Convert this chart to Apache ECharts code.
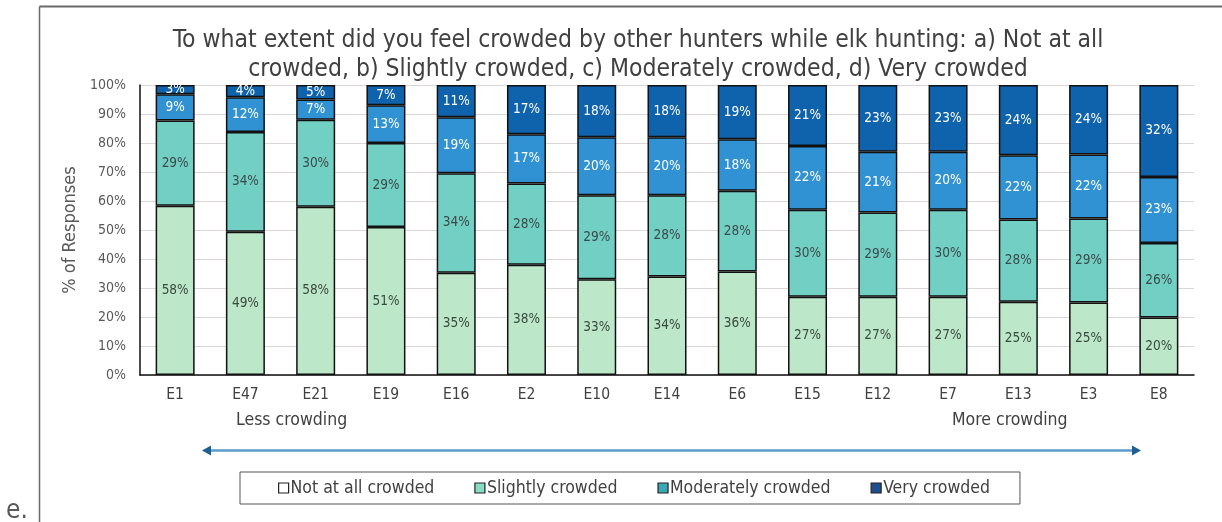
<!DOCTYPE html>
<html>
<head>
<meta charset="utf-8">
<script src="https://cdn.jsdelivr.net/npm/echarts@6/dist/echarts.min.js"></script>
<style>
html,body{margin:0;padding:0;background:#fff;}
#chart{width:1222px;height:522px;}
</style>
</head>
<body>
<div id="chart"></div>
<script>
const categories = ['E1','E47','E21','E19','E16','E2','E10','E14','E6','E15','E12','E7','E13','E3','E8'];
const notAtAll   = [58.4,49.4,58,51,35.3,38,33,34,35.7,27,27,27,25.3,25,19.8];
const slightly   = [29.4,34.4,30,29,34.3,28,29,28,27.8,30,29,30,28.3,29,25.7];
const moderately = [9.0,12.0,7,13,19.3,17,20,20,17.8,22,21,20,22.2,22,22.8];
const very       = [3.2,4.2,5,7,11.1,17,18,18,18.7,21,23,23,24.2,24,31.7];
const seriesNames = ['Not at all crowded','Slightly crowded','Moderately crowded','Very crowded'];
const yTicks = [0,10,20,30,40,50,60,70,80,90,100];

const FONT = '"DejaVu Sans Condensed", "DejaVu Sans", sans-serif';
const barColors = ['#bce7c8','#72cfc3','#3092d2','#0f63ad'];
const legendColors = ['#ffffff','#86dcc4','#3aa9b6','#1c4f8f'];
const labelColors = ['#3b4a40','#3b4a4a','#ffffff','#ffffff'];
const values = [notAtAll, slightly, moderately, very];

const chart = echarts.init(document.getElementById('chart'), null, {renderer:'canvas'});

const series = seriesNames.map((n, i) => ({
  name: n,
  type: 'bar',
  stack: 'total',
  barWidth: 39,
  data: values[i],
  itemStyle: {color: barColors[i], borderColor: '#111', borderWidth: 1.5},
  label: {
    show: true, position: 'inside',
    formatter: p => Math.round(p.value) + '%',
    fontFamily: FONT, fontSize: 13.5, color: labelColors[i]
  },
  emphasis: {disabled: true}
}));

chart.setOption({
  animation: false,
  backgroundColor: '#ffffff',
  title: {
    text: 'To what extent did you feel crowded by other hunters while elk hunting: a) Not at all\ncrowded, b) Slightly crowded, c) Moderately crowded, d) Very crowded',
    left: 633, top: 21, textAlign: 'center',
    textStyle: {fontFamily: FONT, fontSize: 24.5, fontWeight: 'normal', color: '#404040', lineHeight: 29}
  },
  grid: {left: 140, right: 28, top: 85, bottom: 147, containLabel: false},
  legend: {
    data: seriesNames.map((n, i) => ({
      name: n,
      itemStyle: {color: legendColors[i], borderColor: '#222', borderWidth: 1.2}
    })),
    left: 240, top: 472,
    icon: 'rect', itemWidth: 10, itemHeight: 10, itemGap: 40,
    padding: [7, 30, 7, 38],
    borderColor: '#555', borderWidth: 1,
    textStyle: {fontFamily: FONT, fontSize: 17.5, color: '#404040', padding: [0,0,0,-3]},
    selectedMode: false
  },
  xAxis: {
    type: 'category', data: categories,
    axisLine: {lineStyle: {color: '#111', width: 1.5}},
    axisTick: {show: false},
    axisLabel: {fontFamily: FONT, fontSize: 15.5, color: '#404040', margin: 12},
    splitLine: {show: false}
  },
  yAxis: {
    type: 'value', min: yTicks[0], max: yTicks[yTicks.length-1], interval: 10,
    name: '% of Responses', nameLocation: 'middle', nameGap: 57,
    nameTextStyle: {fontFamily: FONT, fontSize: 18, color: '#595959'},
    axisLine: {show: true, lineStyle: {color: '#111', width: 1.5}},
    axisTick: {show: false},
    axisLabel: {fontFamily: FONT, fontSize: 14, color: '#595959', margin: 14, formatter: '{value}%'},
    splitLine: {lineStyle: {color: '#ddd6d6', width: 1}}
  },
  series: series,
  graphic: [
    {type: 'line', shape: {x1: 39.5, y1: 6.5, x2: 1222, y2: 6.5}, style: {stroke: '#6a6a6a', lineWidth: 2}, silent: true},
    {type: 'line', shape: {x1: 39.5, y1: 6.5, x2: 39.5, y2: 522}, style: {stroke: '#6a6a6a', lineWidth: 1.5}, silent: true},
    {type: 'text', left: 6, top: 498, style: {text: 'e.', font: '26px ' + FONT, fill: '#595959'}, silent: true},
    {type: 'text', left: 236, top: 411, style: {text: 'Less crowding', font: '17.5px ' + FONT, fill: '#404040'}, silent: true},
    {type: 'text', left: 952, top: 411, style: {text: 'More crowding', font: '17.5px ' + FONT, fill: '#404040'}, silent: true},
    {type: 'line', shape: {x1: 206, y1: 450.5, x2: 1136, y2: 450.5}, style: {stroke: '#5b9ccc', lineWidth: 2.5}, silent: true},
    {type: 'polygon', shape: {points: [[202, 450.5],[211, 445.5],[211, 455.5]]}, style: {fill: '#1f5f93'}, silent: true},
    {type: 'polygon', shape: {points: [[1141, 450.5],[1132, 445.5],[1132, 455.5]]}, style: {fill: '#1f5f93'}, silent: true}
  ]
});
</script>
</body>
</html>
